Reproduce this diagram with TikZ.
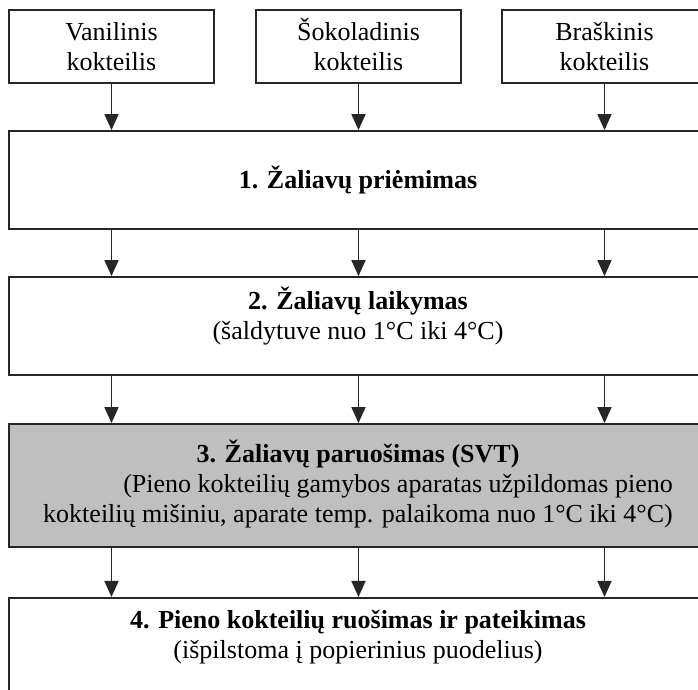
\documentclass[tikz,border=0pt]{standalone}
\usepackage{fontspec}
\setmainfont{Liberation Serif}
\usepackage{tikz}
\usetikzlibrary{arrows.meta}

\begin{document}
\begin{tikzpicture}[x=0.5pt, y=-0.5pt, every node/.style={font=\fontsize{13}{15}\selectfont}]
    % Styles
    \tikzstyle{drink} = [rectangle, draw=black!85, line width=0.9pt, minimum width=102.5pt, minimum height=36.5pt, align=center, inner sep=2pt]
    \tikzstyle{stage} = [rectangle, draw=black!85, line width=0.9pt, minimum width=349pt, align=center]
    \tikzstyle{arrow} = [-{Triangle[width=7pt, length=8pt]}, line width=0.9pt, black!85]

    % Frame - boxes run past the right and lower edge
    \useasboundingbox (0,0) rectangle (698,690);
    \clip (0,0) rectangle (698,690);

    % Nodes - the three drinks
    \node[drink] (vanil) at (111.5, 46.5) {Vanilinis\\kokteilis};
    \node[drink] (sokol) at (358.5, 46.5) {\smash{Š}okoladinis\\kokteilis};
    \node[drink] (brask) at (604.5, 46.5) {Braškinis\\kokteilis};

    % Nodes - process stages
    \node[stage, minimum height=49pt] (recv) at (358, 180) {\textbf{1. Žaliavų priėmimas}};
    \node[stage, minimum height=49pt, text depth=13pt] (store) at (358, 326) {\textbf{2. Žaliavų laikymas}\\(šaldytuve nuo 1°C iki 4°C)};
    \node[stage, minimum height=61.5pt, fill=black!25] (prep) at (358, 485.5) {\begin{tabular}{@{}r@{}}\multicolumn{1}{@{}c@{}}{\textbf{3. Žaliavų paruošimas (SVT)}}\\(Pieno kokteilių gamybos aparatas užpildomas pieno\\kokteilių mišiniu, aparate temp. palaikoma nuo 1°C iki 4°C)\end{tabular}};
    \node[stage, minimum height=61.5pt, text depth=25pt, anchor=north] (serve) at (358, 597) {\textbf{4. Pieno kokteilių ruošimas ir pateikimas}\\(išpilstoma į popierinius puodelius)};

    % Arrows
    \draw[arrow] (vanil.south) -- (vanil.south |- recv.north);
    \draw[arrow] (sokol.south) -- (sokol.south |- recv.north);
    \draw[arrow] (brask.south) -- (brask.south |- recv.north);
    \draw[arrow] (recv.south -| vanil) -- (store.north -| vanil);
    \draw[arrow] (recv.south -| sokol) -- (store.north -| sokol);
    \draw[arrow] (recv.south -| brask) -- (store.north -| brask);
    \draw[arrow] (store.south -| vanil) -- (prep.north -| vanil);
    \draw[arrow] (store.south -| sokol) -- (prep.north -| sokol);
    \draw[arrow] (store.south -| brask) -- (prep.north -| brask);
    \draw[arrow] (prep.south -| vanil) -- (serve.north -| vanil);
    \draw[arrow] (prep.south -| sokol) -- (serve.north -| sokol);
    \draw[arrow] (prep.south -| brask) -- (serve.north -| brask);
\end{tikzpicture}
\end{document}
